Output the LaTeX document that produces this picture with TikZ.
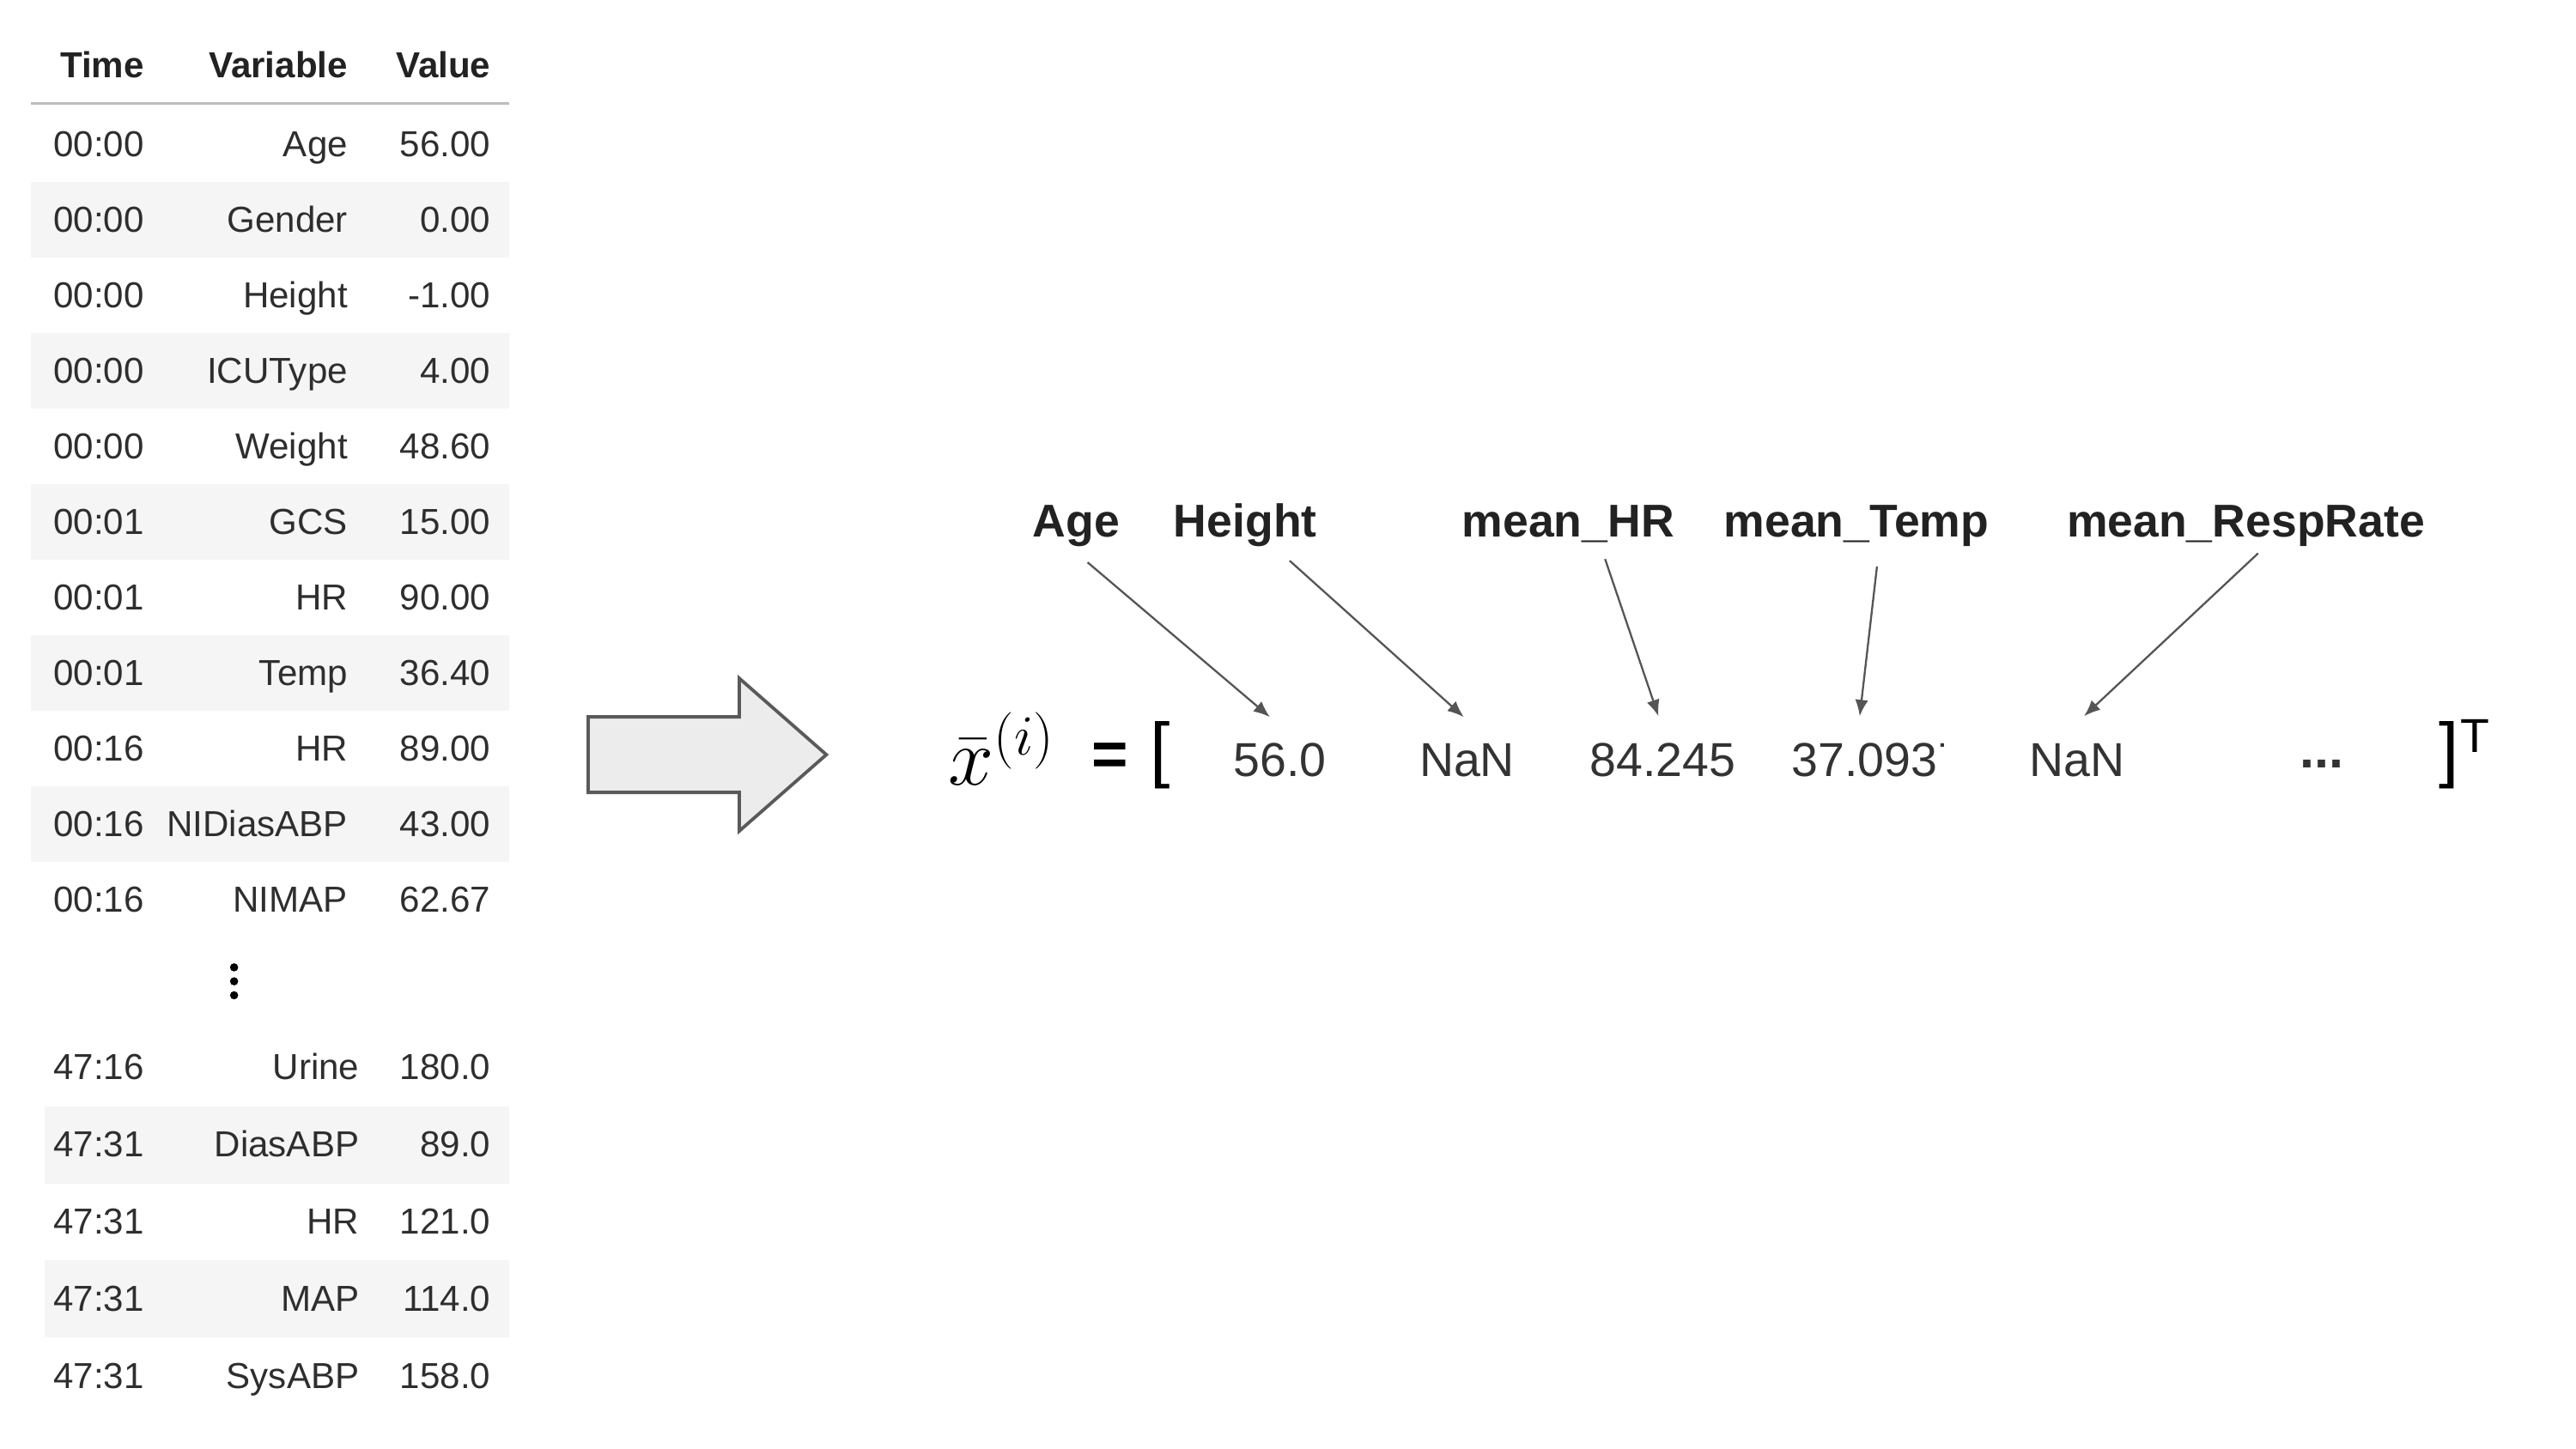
\documentclass[tikz,border=0pt]{standalone}
\usepackage{fontspec}
\setmainfont{Liberation Sans}
\usetikzlibrary{arrows.meta}
\definecolor{txt}{HTML}{2E2E2E}
\definecolor{hdr}{HTML}{222222}
\definecolor{bandc}{HTML}{F5F5F5}
\definecolor{rulec}{HTML}{BDBDBD}
\definecolor{lblc}{HTML}{222222}
\definecolor{valc}{HTML}{333333}
\definecolor{ptrc}{HTML}{555555}
\definecolor{bafill}{HTML}{ECECEC}
\definecolor{baedge}{HTML}{5A5A5A}
\begin{document}
\begin{tikzpicture}[x=0.5pt,y=-0.5pt,
  cell/.style={inner sep=0, anchor=base east, text=txt, font=\fontsize{11}{13}\selectfont},
  head/.style={cell, text=hdr, font=\fontsize{11}{13}\selectfont\bfseries},
  lbl/.style={inner sep=0, anchor=base, text=lblc, font=\fontsize{14}{17}\selectfont\bfseries, text height=10pt, text depth=3pt},
  val/.style={inner sep=0, anchor=base, text=valc, font=\fontsize{14.5}{17}\selectfont, text height=10pt, text depth=0pt},
  ptr/.style={draw=ptrc, line width=0.6pt, -{Latex[length=5pt,width=4pt]}},
  sym/.style={inner sep=0, anchor=base, text=black}
]
\useasboundingbox (0,0) rectangle (1568,882);

% ---- table header
\node[head] (hTime) at (88,47.5) {Time};
\node[head] (hVar) at (212,47.5) {Variable};
\node[head] (hVal) at (299,47.5) {Value};
\draw[rulec, line width=0.8pt] (19,63) -- (310,63);

% ---- upper rows
\foreach \t/\n/\v/\s [count=\i from 0] in {
  00:00/Age/56.00/0, 00:00/Gender/0.00/1, 00:00/Height/-1.00/0,
  00:00/ICUType/4.00/1, 00:00/Weight/48.60/0, 00:01/GCS/15.00/1,
  00:01/HR/90.00/0, 00:01/Temp/36.40/1, 00:16/HR/89.00/0,
  00:16/NIDiasABP/43.00/1, 00:16/NIMAP/62.67/0}{
  \pgfmathsetmacro\yc{88+46*\i}
  \ifnum\s=1 \fill[bandc] (19,\yc-23) rectangle (310,\yc+23); \fi
  \node[cell] (ta\i) at (88,\yc+7.5) {\t};
  \node[cell] (na\i) at (212,\yc+7.5) {\n};
  \node[cell] (va\i) at (299,\yc+7.5) {\v};
}

% ---- vertical ellipsis
\fill[black] (142.5,589) circle (1.25pt);
\fill[black] (142.5,597.5) circle (1.25pt);
\fill[black] (142.5,606) circle (1.25pt);

% ---- lower rows
\foreach \t/\n/\v/\s [count=\i from 0] in {
  47:16/Urine/180.0/0, 47:31/DiasABP/89.0/1, 47:31/HR/121.0/0,
  47:31/MAP/114.0/1, 47:31/SysABP/158.0/0}{
  \pgfmathsetmacro\yc{650+47*\i}
  \ifnum\s=1 \fill[bandc] (27,\yc-23.5) rectangle (310,\yc+23.5); \fi
  \node[cell] (tb\i) at (88,\yc+7.5) {\t};
  \node[cell] (nb\i) at (219,\yc+7.5) {\n};
  \node[cell] (vb\i) at (299,\yc+7.5) {\v};
}

% ---- block arrow
\draw[fill=bafill, draw=baedge, line width=1pt, line join=miter]
  (358,436.5) -- (450,436.5) -- (450,413) -- (503,459.5) -- (450,506)
  -- (450,482.5) -- (358,482.5) -- cycle;

% ---- vector
\node[inner sep=0, anchor=base west, font=\fontsize{23}{28}\selectfont] (xbar) at (577,478) {$\bar{x}^{(i)}$};
\node[sym, font=\fontsize{19}{23}\selectfont\bfseries] (eq) at (675.5,472) {=};
\node[sym, font=\fontsize{22}{26}\selectfont] (lbr) at (706,471) {[};
\node[sym, font=\fontsize{22}{26}\selectfont] (rbr) at (1490.5,471) {]};
\node[sym, anchor=base west, font=\fontsize{14.5}{17}\selectfont] (supT) at (1497.5,458) {T};
\node[inner sep=0, text=valc, font=\fontsize{16}{19}\selectfont\bfseries] (dots) at (1413.5,465) {...};

\node[val] (vAge) at (779,473) {56.0};
\node[val] (vHeight) at (893,473) {NaN};
\node[val] (vHR) at (1012,473) {84.245};
\node[val] (vTemp) at (1135,473) {37.093};
\node[val] (vResp) at (1264.5,473) {NaN};
\begin{scope}
  \clip (1177,448) rectangle (1183,456);
  \node[val, anchor=base west] (vTempCut) at (vTemp.base east) {7};
\end{scope}

% ---- labels
\node[lbl] (lAge) at (655,327) {Age};
\node[lbl] (lHeight) at (758,327) {Height};
\node[lbl] (lHR) at (954.5,327) {mean\_HR};
\node[lbl] (lTemp) at (1130,327) {mean\_Temp};
\node[lbl] (lResp) at (1367,327) {mean\_RespRate};

% ---- pointers
\draw[ptr] ([shift={(7,9)}]lAge.south) -- ([shift={(-6,-16)}]vAge.north);
\draw[ptr] ([shift={(27,8)}]lHeight.south) -- ([shift={(-2,-16)}]vHeight.north);
\draw[ptr] ([shift={(22.5,7)}]lHR.south) -- ([shift={(-2.5,-16.5)}]vHR.north);
\draw[ptr] ([shift={(12.5,11.5)}]lTemp.south) -- ([shift={(-3,-16.5)}]vTemp.north);
\draw[ptr] ([shift={(7.5,3.5)}]lResp.south) -- ([shift={(4,-16.5)}]vResp.north);
\end{tikzpicture}
\end{document}
